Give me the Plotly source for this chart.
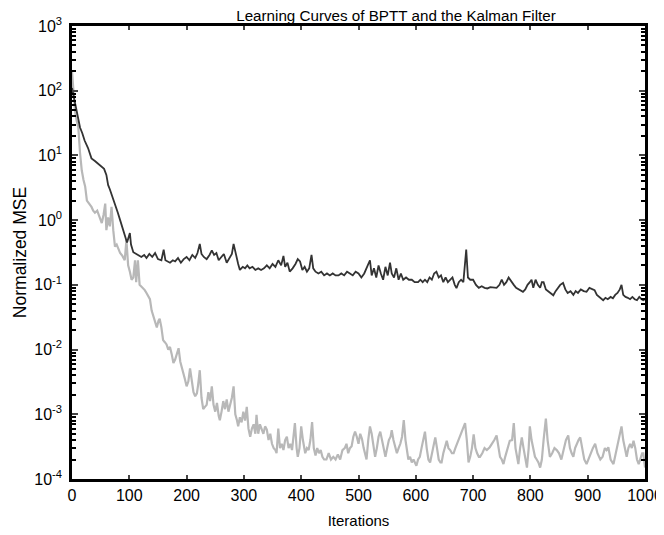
import plotly.graph_objects as go

# ---- data ----
bptt_iter = [0,3,6,10,14,18,22,28,31,34,40,46,52,56,60,63,66,70,75,80,84,88,92,96,101,103,107,112,116,121,126,130,135,140,145,150,156,160,163,168,171,176,180,185,190,195,200,205,210,215,219,223,226,230,235,240,244,248,252,256,260,265,270,275,279,282,286,290,293,298,302,306,310,315,320,325,330,335,340,345,350,355,360,365,369,372,376,380,385,390,394,398,402,406,410,414,418,421,425,430,435,440,445,450,455,460,465,470,475,480,485,490,495,500,505,510,515,520,523,527,531,535,539,543,547,551,555,558,562,566,570,574,578,583,588,593,598,604,608,612,616,620,624,628,632,636,640,644,648,652,656,660,664,668,671,675,679,683,686,688,691,695,700,705,710,715,720,725,730,735,741,746,750,754,758,762,767,771,775,779,783,787,791,795,799,802,805,809,813,817,820,823,827,831,836,840,844,848,852,857,861,865,870,875,879,883,888,893,898,903,908,912,916,920,924,927,931,935,940,944,948,952,956,959,962,966,970,974,978,982,986,990,994,997,1000]
bptt_mse = [110,80,60,40,27,22,17,13,11,9,8.2,7.4,6.7,6.2,5,3.5,3.0,2.4,1.8,1.3,1.0,0.75,0.55,0.45,0.63,0.42,0.32,0.30,0.28,0.27,0.29,0.26,0.30,0.27,0.31,0.25,0.24,0.35,0.24,0.23,0.22,0.24,0.23,0.26,0.22,0.25,0.27,0.24,0.29,0.26,0.31,0.43,0.30,0.27,0.25,0.29,0.34,0.29,0.31,0.24,0.27,0.30,0.22,0.26,0.30,0.43,0.28,0.21,0.17,0.19,0.18,0.20,0.18,0.19,0.17,0.18,0.17,0.18,0.20,0.18,0.21,0.19,0.24,0.20,0.28,0.19,0.22,0.16,0.18,0.21,0.25,0.23,0.17,0.19,0.16,0.18,0.29,0.18,0.16,0.15,0.16,0.14,0.15,0.14,0.15,0.14,0.14,0.15,0.14,0.16,0.15,0.14,0.16,0.15,0.13,0.15,0.19,0.24,0.14,0.18,0.13,0.20,0.15,0.12,0.19,0.14,0.22,0.15,0.13,0.18,0.12,0.15,0.12,0.13,0.12,0.12,0.11,0.11,0.12,0.11,0.12,0.11,0.13,0.12,0.15,0.16,0.13,0.14,0.11,0.13,0.11,0.12,0.13,0.10,0.089,0.11,0.12,0.11,0.20,0.35,0.13,0.12,0.12,0.10,0.09,0.095,0.09,0.088,0.092,0.09,0.09,0.10,0.12,0.10,0.11,0.13,0.115,0.10,0.09,0.085,0.08,0.078,0.085,0.10,0.11,0.12,0.09,0.12,0.10,0.09,0.11,0.11,0.085,0.08,0.072,0.069,0.08,0.09,0.10,0.107,0.085,0.075,0.08,0.07,0.08,0.075,0.085,0.08,0.078,0.09,0.085,0.083,0.07,0.065,0.062,0.058,0.063,0.06,0.065,0.062,0.07,0.075,0.085,0.10,0.07,0.065,0.063,0.06,0.065,0.06,0.058,0.065,0.06,0.058,0.06]

kf_iter = [0,2,5,8,11,14,17,20,23,26,30,34,37,40,44,48,52,55,58,60,63,66,69,72,75,78,81,84,88,92,95,98,101,104,107,110,112,115,118,121,124,127,130,133,136,139,142,145,148,151,153,156,159,162,165,168,171,174,177,180,183,186,189,192,194,197,200,203,206,209,212,215,218,220,223,226,229,232,235,238,241,244,247,250,253,256,258,261,264,267,270,273,276,279,282,285,288,290,293,296,299,302,305,308,311,314,317,320,322,325,328,331,334,337,340,343,346,349,352,355,357,360,363,366,369,372,375,378,381,384,387,389,392,394,397,400,403,407,410,413,416,419,422,425,428,431,434,437,440,444,448,452,456,460,464,468,472,476,479,482,485,488,491,494,497,500,503,506,509,512,514,517,520,523,526,529,532,535,538,541,544,547,550,553,556,558,561,564,567,570,573,576,579,582,585,587,590,593,596,599,601,604,607,610,613,616,619,622,625,628,631,634,637,640,643,645,648,651,654,657,660,663,666,669,672,675,677,680,683,686,689,692,695,698,701,704,707,710,712,716,720,724,729,733,737,741,744,747,750,753,756,760,764,768,771,774,777,779,782,785,788,791,794,797,799,802,805,808,811,814,817,820,823,827,830,834,838,842,846,850,854,858,862,866,869,872,875,878,881,884,887,890,894,898,901,905,909,913,917,922,926,930,933,936,940,945,949,953,956,959,962,965,968,971,974,977,980,983,986,989,992,995,997,1000]
kf_mse = [200,120,50,35,27,11,5.9,4.2,3.3,2.0,1.8,1.6,1.4,1.3,1.4,1.1,0.9,1.2,1.8,0.7,1.1,0.8,1.6,0.7,0.39,0.42,0.35,0.31,0.28,0.24,0.49,0.2,0.16,0.12,0.13,0.24,0.11,0.24,0.1,0.095,0.09,0.083,0.075,0.066,0.06,0.04,0.032,0.025,0.022,0.028,0.03,0.022,0.014,0.013,0.012,0.01,0.011,0.0085,0.0062,0.007,0.009,0.0105,0.0065,0.0052,0.0048,0.0035,0.0027,0.0032,0.0051,0.003,0.0022,0.0019,0.0021,0.0028,0.0048,0.0018,0.0012,0.0013,0.0014,0.0022,0.0016,0.0027,0.0014,0.0011,0.0015,0.00095,0.00081,0.0011,0.0016,0.0012,0.0017,0.0011,0.0014,0.0018,0.0027,0.001,0.0008,0.00065,0.0009,0.00075,0.0011,0.0008,0.0013,0.0006,0.00045,0.0006,0.0007,0.0005,0.00098,0.0005,0.0007,0.0006,0.0005,0.00065,0.00058,0.0004,0.0005,0.00035,0.0003,0.00028,0.00025,0.0006,0.0003,0.00035,0.00028,0.0004,0.00045,0.0003,0.00035,0.00028,0.0005,0.00073,0.0003,0.00022,0.0003,0.00065,0.0004,0.00025,0.0003,0.00028,0.0004,0.00076,0.0003,0.00023,0.0003,0.00025,0.00028,0.00022,0.0002,0.0002,0.00025,0.0002,0.00022,0.0002,0.00024,0.0002,0.00028,0.0003,0.00035,0.00025,0.0003,0.00032,0.00045,0.00054,0.00045,0.00035,0.0005,0.00042,0.0003,0.00022,0.0002,0.0004,0.00065,0.0005,0.0003,0.00022,0.0003,0.00045,0.00054,0.0004,0.00028,0.00022,0.0003,0.0004,0.00045,0.00057,0.0004,0.0003,0.00025,0.0003,0.00035,0.00045,0.00081,0.0004,0.00025,0.0002,0.00022,0.00018,0.0002,0.00017,0.00016,0.0002,0.00022,0.0003,0.0004,0.00054,0.0003,0.0002,0.00018,0.00025,0.00035,0.00044,0.0003,0.0002,0.00018,0.00018,0.00025,0.0003,0.00039,0.0003,0.00028,0.00025,0.00025,0.0003,0.00035,0.0004,0.00044,0.00055,0.0006,0.00073,0.0004,0.00018,0.00022,0.0003,0.00049,0.0003,0.00025,0.00022,0.00022,0.00025,0.0003,0.00028,0.00031,0.00035,0.0004,0.00047,0.0003,0.00022,0.0002,0.00017,0.00022,0.0003,0.00039,0.0004,0.00073,0.0003,0.0002,0.00017,0.0003,0.00044,0.0003,0.0002,0.00015,0.0003,0.00065,0.0004,0.0003,0.00022,0.0002,0.00018,0.00015,0.0002,0.0004,0.00086,0.0004,0.00022,0.00025,0.0003,0.00028,0.00025,0.0002,0.0003,0.0004,0.00047,0.0003,0.00025,0.00022,0.0003,0.00035,0.0004,0.00044,0.0003,0.0002,0.00017,0.0002,0.00025,0.0003,0.00035,0.00025,0.0002,0.00022,0.0003,0.00028,0.00031,0.0002,0.00017,0.00025,0.0004,0.00055,0.00065,0.0004,0.0003,0.00022,0.0003,0.00035,0.0003,0.00039,0.0003,0.0002,0.00017,0.0002,0.00025,0.00025,0.00015]

x_ticks = [0,100,200,300,400,500,600,700,800,900,1000]
y_exps = [-4,-3,-2,-1,0,1,2,3]

fnt = "Liberation Sans, Arial, sans-serif"

fig = go.Figure()
fig.add_trace(go.Scatter(x=kf_iter, y=kf_mse, mode="lines",
                         line=dict(color="#b8b8b8", width=2.2), showlegend=False))
fig.add_trace(go.Scatter(x=bptt_iter, y=bptt_mse, mode="lines",
                         line=dict(color="#333333", width=1.8), showlegend=False))

minor_vals = [m * 10.0 ** e for e in y_exps[:-1] for m in range(2, 10)]

# the page body adds an 8 px offset, so margins compensate for it
fig.update_layout(
    width=664, height=535,
    margin=dict(l=64, r=27, t=18, b=64),
    paper_bgcolor="white", plot_bgcolor="white",
    font=dict(family=fnt, size=16, color="black"),
    title=dict(text="Learning Curves of BPTT and the Kalman Filter",
               x=0.5655, xanchor="center", xref="paper",
               y=0.9865, yanchor="middle", yref="container",
               font=dict(size=15.2, family=fnt)),
    xaxis=dict(range=[0, 1000], tickvals=x_ticks, ticks="inside", ticklen=4, tickwidth=2,
               showline=True, linewidth=2.5, linecolor="black", mirror="ticks",
               showgrid=False, zeroline=False, automargin=False,
               title=dict(text="Iterations", font=dict(size=15), standoff=13)),
    yaxis=dict(type="log", range=[-4, 3],
               tickvals=[10.0 ** e for e in y_exps],
               ticktext=["10<sup>%d</sup>" % e for e in y_exps],
               ticks="inside", ticklen=6, tickwidth=2, ticklabelstandoff=4,
               minor=dict(tickvals=minor_vals, ticks="inside", ticklen=4, tickwidth=2,
                          tickcolor="black", showgrid=False),
               showline=True, linewidth=2.5, linecolor="black", mirror="ticks",
               showgrid=False, zeroline=False, automargin=False,
               title=dict(text="Normalized MSE", font=dict(size=17.5), standoff=4)),
)

fig.write_html("out.html")
